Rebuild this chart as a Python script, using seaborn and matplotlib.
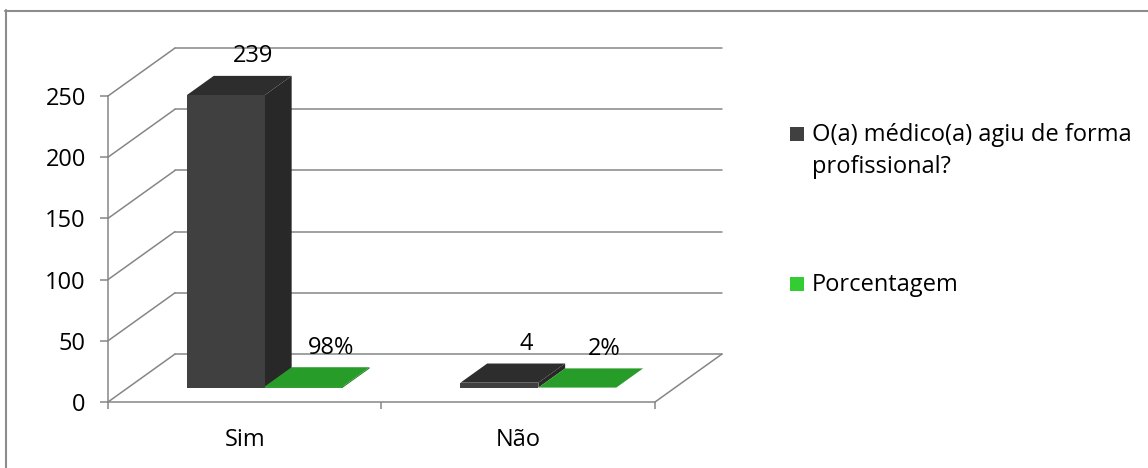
import matplotlib
matplotlib.use("Agg")
import matplotlib.pyplot as plt
import pandas as pd
import seaborn as sns
from matplotlib.patches import Polygon, Rectangle
from matplotlib.lines import Line2D
from matplotlib.transforms import Affine2D

# ---- data -------------------------------------------------------------
categories = ["Sim", "Não"]
series_names = ["O(a) médico(a) agiu de forma profissional?", "Porcentagem"]
respostas = [239, 4]
porcentagem = [0.98, 0.02]
y_ticks = [0, 50, 100, 150, 200, 250]

# ---- style --------------------------------------------------------------
sns.set_style("white")
plt.rcParams["font.family"] = ["Open Sans", "DejaVu Sans"]
FS = 17
GRID = "#868686"

front_colors = {series_names[0]: "#404040", series_names[1]: "#2f9e2f"}
side_colors = ["#282828", "#1f7a1f"]
top_colors = ["#2d2d2d", "#289c28"]
legend_colors = ["#404040", "#33cc33"]

df = pd.DataFrame({
    "categoria": categories * 2,
    "serie": [series_names[0]] * len(categories) + [series_names[1]] * len(categories),
    "valor": respostas + porcentagem,
})

fig = plt.figure(figsize=(11.48, 4.68), dpi=100)
ax = fig.add_axes([0, 0, 1, 1])

sns.barplot(data=df, x="categoria", y="valor", hue="serie", order=categories,
            hue_order=series_names, palette=front_colors, width=0.57,
            saturation=1, legend=False, errorbar=None, linewidth=0, ax=ax)

# oblique projection of the box: full depth of floor/walls in data units
DX, DY = 0.245, 39.2
F0, FD = 0.30, 0.40          # bar front position and bar depth (fractions)
x_lo, x_hi = -0.5, len(categories) - 0.5

# back wall gridlines and side-wall diagonals
for v in y_ticks:
    ax.plot([x_lo + DX, x_hi + DX], [v + DY, v + DY], color=GRID, lw=1.1, zorder=1)
    ax.plot([x_lo, x_lo + DX], [v, v + DY], color=GRID, lw=1.1, zorder=1)
ax.plot([x_hi, x_hi + DX], [0, DY], color=GRID, lw=1.1, zorder=1)

# 3D faces of the bars
bars = []
for si, cont in enumerate(ax.containers):
    for p in cont:
        bars.append((p.get_x(), si, p))
bars.sort(key=lambda b: b[0])

ox, oy = F0 * DX, F0 * DY
dx, dy = FD * DX, FD * DY
for rank, (x0, si, p) in enumerate(bars):
    z = 3 + rank * 0.1
    w, h = p.get_width(), p.get_height()
    x1 = x0 + w
    p.set_transform(Affine2D().translate(ox, oy) + ax.transData)
    p.set_zorder(z + 0.05)
    side = Polygon([(x1 + ox, oy), (x1 + ox + dx, oy + dy),
                    (x1 + ox + dx, h + oy + dy), (x1 + ox, h + oy)],
                   closed=True, facecolor=side_colors[si], edgecolor="none", zorder=z)
    top = Polygon([(x0 + ox, h + oy), (x1 + ox, h + oy),
                   (x1 + ox + dx, h + oy + dy), (x0 + ox + dx, h + oy + dy)],
                  closed=True, facecolor=top_colors[si], edgecolor="none", zorder=z + 0.02)
    ax.add_patch(side)
    ax.add_patch(top)
    label = f"{h:.0f}" if si == 0 else f"{h * 100:.0f}%"
    ax.annotate(label, xy=(x0 + w / 2 + ox + dx, h + oy + dy), xytext=(0, 14),
                textcoords="offset points", ha="center", va="center",
                fontsize=FS, color="black", zorder=10)

# ---- axes -----------------------------------------------------------------
ax.set_xlim(-0.89488, 3.30256)
ax.set_ylim(-53.92, 328.43)
ax.set_xlabel("")
ax.set_ylabel("")
for s in ("top", "right"):
    ax.spines[s].set_visible(False)
ax.spines["left"].set_position(("data", x_lo))
ax.spines["left"].set_bounds(0, 250)
ax.spines["bottom"].set_position(("data", 0))
ax.spines["bottom"].set_bounds(x_lo, x_hi)
for s in ("left", "bottom"):
    ax.spines[s].set_color(GRID)
    ax.spines[s].set_linewidth(1.1)

ax.set_yticks(y_ticks)
ax.set_xticks(range(len(categories)))
ax.set_xticklabels(categories)
ax.set_xticks([x_lo + i for i in range(len(categories) + 1)], minor=True)
ax.tick_params(axis="y", left=True, direction="out", length=6, width=1.1,
               color=GRID, pad=10, labelsize=FS, labelcolor="black")
ax.tick_params(axis="x", which="major", bottom=False, length=0, pad=19,
               labelsize=FS, labelcolor="black")
ax.tick_params(axis="x", which="minor", bottom=True, direction="out", length=5,
               width=1.1, color=GRID)

# ---- legend ----------------------------------------------------------------
W, H = 1148, 468
legend_items = [(series_names[0].replace("forma ", "forma\n"), 134), (series_names[1], 284)]
for (text, yc), col in zip(legend_items, legend_colors):
    fig.patches.append(Rectangle((790 / W, 1 - (yc + 7) / H), 14 / W, 14 / H,
                                 transform=fig.transFigure, facecolor=col,
                                 edgecolor="none"))
    fig.text(812 / W, 1 - (yc - 11) / H, text, ha="left", va="top",
             fontsize=FS, linespacing=1.45, color="black")

# ---- chart frame -------------------------------------------------------------
fig.add_artist(Line2D([5 / W, 1], [1 - 10.5 / H, 1 - 10.5 / H],
                      transform=fig.transFigure, color="#8c8c8c", lw=1.5))
fig.add_artist(Line2D([5.5 / W, 5.5 / W], [0, 1 - 10 / H],
                      transform=fig.transFigure, color="#8c8c8c", lw=1.5))

fig.savefig("out.png", dpi=100)
